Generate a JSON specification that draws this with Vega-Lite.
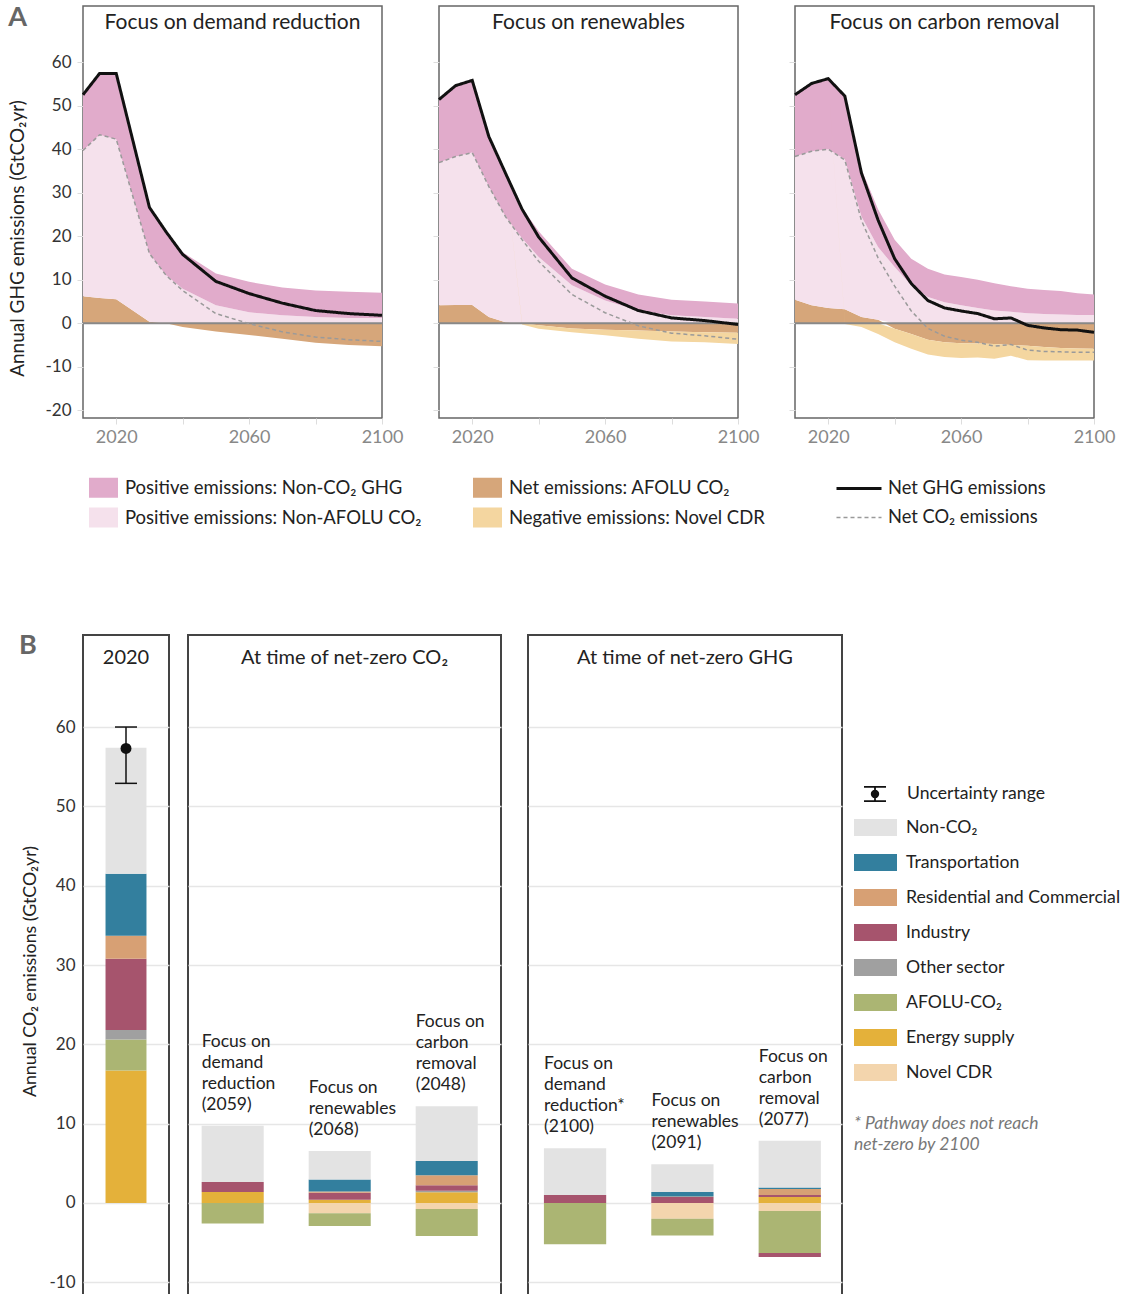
{
  "$schema": "https://vega.github.io/schema/vega-lite/v6.json",
  "padding": {"left": 8, "top": 4, "right": 0, "bottom": 0},
  "bounds": "flush",
  "spacing": 629,
  "config": {
    "font": "Lato",
    "title": {"font": "Lato", "fontWeight": "normal", "fontSize": 20, "color": "#222"},
    "axis": {"labelFont": "Lato", "titleFont": "Lato", "titleFontWeight": "normal", "titleColor": "#222", "labelColor": "#333", "domain": false, "labelFlush": false, "grid": false},
    "legend": {"labelFont": "Lato", "titleFont": "Lato"}
  },
  "datasets": {
    "a": [
      {"s":"D","year":2010,"afolu":6.2,"nonafolu":33.5,"nonco2":12.8,"cdr":0,"ghg":52.5,"co2":39.7},
      {"s":"D","year":2015,"afolu":5.8,"nonafolu":37.5,"nonco2":14.1,"cdr":0,"ghg":57.4,"co2":43.3},
      {"s":"D","year":2020,"afolu":5.5,"nonafolu":36.8,"nonco2":15.1,"cdr":0,"ghg":57.4,"co2":42.3},
      {"s":"D","year":2030,"afolu":0.3,"nonafolu":15.7,"nonco2":10.6,"cdr":0,"ghg":26.6,"co2":16.0},
      {"s":"D","year":2035,"afolu":0,"nonafolu":11.0,"nonco2":10.0,"cdr":0,"ghg":21.0,"co2":11.0},
      {"s":"D","year":2040,"afolu":-0.9,"nonafolu":7.9,"nonco2":8.4,"cdr":0,"ghg":15.8,"co2":7.5},
      {"s":"D","year":2050,"afolu":-1.9,"nonafolu":4.1,"nonco2":7.3,"cdr":0,"ghg":9.6,"co2":2.2},
      {"s":"D","year":2060,"afolu":-2.7,"nonafolu":2.5,"nonco2":7.0,"cdr":0,"ghg":6.8,"co2":-0.1},
      {"s":"D","year":2070,"afolu":-3.6,"nonafolu":1.8,"nonco2":6.4,"cdr":0,"ghg":4.6,"co2":-2.0},
      {"s":"D","year":2080,"afolu":-4.5,"nonafolu":1.4,"nonco2":6.1,"cdr":0,"ghg":2.9,"co2":-3.2},
      {"s":"D","year":2090,"afolu":-5.0,"nonafolu":1.2,"nonco2":6.0,"cdr":0,"ghg":2.2,"co2":-3.8},
      {"s":"D","year":2100,"afolu":-5.3,"nonafolu":1.2,"nonco2":5.8,"cdr":0,"ghg":1.8,"co2":-4.2},
      {"s":"R","year":2010,"afolu":4.1,"nonafolu":32.8,"nonco2":14.5,"cdr":0,"ghg":51.4,"co2":36.9},
      {"s":"R","year":2015,"afolu":4.2,"nonafolu":34.1,"nonco2":16.3,"cdr":0,"ghg":54.6,"co2":38.3},
      {"s":"R","year":2020,"afolu":4.2,"nonafolu":35.0,"nonco2":16.6,"cdr":0,"ghg":55.8,"co2":39.2},
      {"s":"R","year":2025,"afolu":1.4,"nonafolu":30.0,"nonco2":11.5,"cdr":0,"ghg":42.9,"co2":31.4},
      {"s":"R","year":2030,"afolu":0.2,"nonafolu":24.3,"nonco2":10.0,"cdr":0,"ghg":34.5,"co2":24.5},
      {"s":"R","year":2035,"afolu":0,"nonafolu":19.5,"nonco2":7.0,"cdr":-0.3,"ghg":26.2,"co2":19.2},
      {"s":"R","year":2040,"afolu":-0.5,"nonafolu":15.2,"nonco2":5.9,"cdr":-0.8,"ghg":19.8,"co2":14.2},
      {"s":"R","year":2050,"afolu":-1.2,"nonafolu":8.7,"nonco2":3.8,"cdr":-0.9,"ghg":10.4,"co2":6.6},
      {"s":"R","year":2060,"afolu":-1.5,"nonafolu":5.2,"nonco2":3.7,"cdr":-1.3,"ghg":6.2,"co2":2.4},
      {"s":"R","year":2070,"afolu":-1.7,"nonafolu":2.9,"nonco2":3.7,"cdr":-1.9,"ghg":2.9,"co2":-0.6},
      {"s":"R","year":2080,"afolu":-1.9,"nonafolu":1.8,"nonco2":3.6,"cdr":-2.3,"ghg":1.2,"co2":-2.3},
      {"s":"R","year":2090,"afolu":-2.1,"nonafolu":1.4,"nonco2":3.6,"cdr":-2.3,"ghg":0.6,"co2":-2.9},
      {"s":"R","year":2100,"afolu":-2.2,"nonafolu":1.0,"nonco2":3.5,"cdr":-2.6,"ghg":-0.3,"co2":-3.7},
      {"s":"C","year":2010,"afolu":5.4,"nonafolu":32.9,"nonco2":14.2,"cdr":0,"ghg":52.5,"co2":38.3},
      {"s":"C","year":2015,"afolu":4.1,"nonafolu":35.4,"nonco2":15.6,"cdr":0,"ghg":55.1,"co2":39.5},
      {"s":"C","year":2020,"afolu":3.5,"nonafolu":36.5,"nonco2":16.2,"cdr":0,"ghg":56.2,"co2":40.0},
      {"s":"C","year":2025,"afolu":3.2,"nonafolu":34.5,"nonco2":14.5,"cdr":-0.2,"ghg":52.2,"co2":37.5},
      {"s":"C","year":2030,"afolu":1.4,"nonafolu":23.1,"nonco2":10.9,"cdr":-0.9,"ghg":34.5,"co2":23.6},
      {"s":"C","year":2035,"afolu":0.8,"nonafolu":16.7,"nonco2":8.7,"cdr":-2.5,"ghg":23.7,"co2":15.0},
      {"s":"C","year":2040,"afolu":-1.3,"nonafolu":12.9,"nonco2":6.3,"cdr":-3.1,"ghg":14.8,"co2":8.5},
      {"s":"C","year":2045,"afolu":-2.5,"nonafolu":8.7,"nonco2":6.1,"cdr":-3.4,"ghg":9.1,"co2":2.8},
      {"s":"C","year":2050,"afolu":-3.8,"nonafolu":6.0,"nonco2":6.5,"cdr":-3.4,"ghg":5.2,"co2":-1.2},
      {"s":"C","year":2055,"afolu":-4.4,"nonafolu":4.8,"nonco2":6.4,"cdr":-3.4,"ghg":3.5,"co2":-3.0},
      {"s":"C","year":2060,"afolu":-4.6,"nonafolu":4.1,"nonco2":6.5,"cdr":-3.4,"ghg":2.8,"co2":-3.9},
      {"s":"C","year":2065,"afolu":-4.7,"nonafolu":3.5,"nonco2":6.5,"cdr":-3.2,"ghg":2.2,"co2":-4.4},
      {"s":"C","year":2070,"afolu":-4.8,"nonafolu":2.9,"nonco2":6.3,"cdr":-3.4,"ghg":1.0,"co2":-5.3},
      {"s":"C","year":2075,"afolu":-5.0,"nonafolu":2.6,"nonco2":5.9,"cdr":-2.5,"ghg":1.2,"co2":-4.9},
      {"s":"C","year":2080,"afolu":-5.2,"nonafolu":2.3,"nonco2":5.6,"cdr":-3.3,"ghg":-0.5,"co2":-6.2},
      {"s":"C","year":2085,"afolu":-5.5,"nonafolu":2.1,"nonco2":5.5,"cdr":-3.1,"ghg":-1.1,"co2":-6.5},
      {"s":"C","year":2090,"afolu":-5.7,"nonafolu":2.0,"nonco2":5.4,"cdr":-2.9,"ghg":-1.5,"co2":-6.6},
      {"s":"C","year":2095,"afolu":-5.8,"nonafolu":1.9,"nonco2":5.0,"cdr":-2.8,"ghg":-1.6,"co2":-6.7},
      {"s":"C","year":2100,"afolu":-5.9,"nonafolu":1.9,"nonco2":4.7,"cdr":-2.7,"ghg":-2.1,"co2":-6.7}
    ],
    "b": [
      {"p":"2020","bar":"2020","sector":"energy","value":16.7},
      {"p":"2020","bar":"2020","sector":"afolu","value":3.9},
      {"p":"2020","bar":"2020","sector":"other","value":1.2},
      {"p":"2020","bar":"2020","sector":"industry","value":9.0},
      {"p":"2020","bar":"2020","sector":"res","value":2.9},
      {"p":"2020","bar":"2020","sector":"transport","value":7.8},
      {"p":"2020","bar":"2020","sector":"nonco2","value":15.9},
      {"p":"co2","bar":"co2d","sector":"energy","value":1.4},
      {"p":"co2","bar":"co2d","sector":"industry","value":1.25},
      {"p":"co2","bar":"co2d","sector":"nonco2","value":7.1},
      {"p":"co2","bar":"co2d","sector":"afolu","value":-2.6},
      {"p":"co2","bar":"co2r","sector":"energy","value":0.4},
      {"p":"co2","bar":"co2r","sector":"industry","value":0.9},
      {"p":"co2","bar":"co2r","sector":"res","value":0.15},
      {"p":"co2","bar":"co2r","sector":"transport","value":1.5},
      {"p":"co2","bar":"co2r","sector":"nonco2","value":3.6},
      {"p":"co2","bar":"co2r","sector":"cdr","value":-1.3},
      {"p":"co2","bar":"co2r","sector":"afolu","value":-1.6},
      {"p":"co2","bar":"co2c","sector":"energy","value":1.35},
      {"p":"co2","bar":"co2c","sector":"other","value":0.2},
      {"p":"co2","bar":"co2c","sector":"industry","value":0.7},
      {"p":"co2","bar":"co2c","sector":"res","value":1.26},
      {"p":"co2","bar":"co2c","sector":"transport","value":1.77},
      {"p":"co2","bar":"co2c","sector":"nonco2","value":6.9},
      {"p":"co2","bar":"co2c","sector":"cdr","value":-0.76},
      {"p":"co2","bar":"co2c","sector":"afolu","value":-3.4},
      {"p":"ghg","bar":"ghgd","sector":"industry","value":1.0},
      {"p":"ghg","bar":"ghgd","sector":"nonco2","value":5.9},
      {"p":"ghg","bar":"ghgd","sector":"afolu","value":-5.2},
      {"p":"ghg","bar":"ghgr","sector":"industry","value":0.75},
      {"p":"ghg","bar":"ghgr","sector":"res","value":0.08},
      {"p":"ghg","bar":"ghgr","sector":"transport","value":0.55},
      {"p":"ghg","bar":"ghgr","sector":"nonco2","value":3.5},
      {"p":"ghg","bar":"ghgr","sector":"cdr","value":-2.0},
      {"p":"ghg","bar":"ghgr","sector":"afolu","value":-2.1},
      {"p":"ghg","bar":"ghgc","sector":"energy","value":0.76},
      {"p":"ghg","bar":"ghgc","sector":"industry","value":0.25},
      {"p":"ghg","bar":"ghgc","sector":"res","value":0.76},
      {"p":"ghg","bar":"ghgc","sector":"transport","value":0.17},
      {"p":"ghg","bar":"ghgc","sector":"nonco2","value":5.9},
      {"p":"ghg","bar":"ghgc","sector":"cdr","value":-1.0},
      {"p":"ghg","bar":"ghgc","sector":"afolu","value":-5.3},
      {"p":"ghg","bar":"ghgc","sector":"industry","value":-0.5}
    ],
    "bl": [
      {"bar":"co2d","lines":4,"label":"Focus on\ndemand\nreduction\n(2059)"},
      {"bar":"co2r","lines":3,"label":"Focus on\nrenewables\n(2068)"},
      {"bar":"co2c","lines":4,"label":"Focus on\ncarbon\nremoval\n(2048)"},
      {"bar":"ghgd","lines":4,"label":"Focus on\ndemand\nreduction*\n(2100)"},
      {"bar":"ghgr","lines":3,"label":"Focus on\nrenewables\n(2091)"},
      {"bar":"ghgc","lines":4,"label":"Focus on\ncarbon\nremoval\n(2077)"}
    ],
    "e": [{"bar":"2020","lo":52.9,"mid":57.3,"hi":60.0}]
  },
  "vconcat": [
    {
      "title": {"text": "A", "anchor": "start", "fontSize": 27, "fontWeight": "bold", "color": "#666", "offset": -48, "dx": 0, "baseline": "alphabetic"},
      "bounds": "flush",
      "spacing": 57,
      "resolve": {"scale": {"x": "independent", "y": "independent", "fill": "independent", "stroke": "independent", "strokeDash": "independent", "strokeWidth": "independent"}},
      "hconcat": [
        {
          "width": 299, "height": 412,
          "view": {"stroke": "#666", "strokeWidth": 1.5},
          "title": {"text": "Focus on demand reduction", "offset": -44, "fontSize": 21, "baseline": "alphabetic"},
          "layer": [
            {
              "data": {"name": "a"},
              "transform": [{"filter": "datum.s == 'D'"}, {"fold": ["afolu", "nonafolu", "nonco2", "cdr"], "as": ["series", "value"]}, {"calculate": "indexof(['afolu','nonafolu','nonco2','cdr'], datum.series)", "as": "ord"}],
              "mark": {"type": "area", "opacity": 1},
              "encoding": {
                "x": {"field": "year", "type": "quantitative", "scale": {"domain": [2010, 2100], "nice": false, "zero": false}, "axis": {"values": [2020, 2040, 2060, 2080, 2100], "format": "d", "labelExpr": "(datum.value - 2020) % 40 == 0 ? datum.label : ''", "title": null, "grid": false, "tickSize": 6, "tickColor": "#dddddd", "labelColor": "#888", "labelFontSize": 18, "labelPadding": 4}},
                "y": {"field": "value", "type": "quantitative", "stack": "zero", "scale": {"domain": [-21.8, 72.9], "nice": false, "zero": false}, "axis": {"values": [-20, -10, 0, 10, 20, 30, 40, 50, 60], "labelExpr": "replace(datum.label, '−', '-')", "title": "Annual GHG emissions (GtCO₂yr)", "titleY": 232, "grid": false, "titleFontSize": 19, "titlePadding": 17, "tickSize": 6, "tickColor": "#dddddd", "labelPadding": 6, "labelFontSize": 17}},
                "fill": {"field": "series", "type": "nominal", "scale": {"domain": ["nonco2", "afolu", "nonafolu", "cdr"], "range": ["#e1abcb", "#d6a67a", "#f5e1ec", "#f4d6a0"]},
                  "legend": {"orient": "none", "legendX": 6, "legendY": 467, "columns": 2, "direction": "horizontal", "title": null, "symbolType": "M-1,-0.69H1V0.69H-1Z", "symbolSize": 841, "symbolStrokeWidth": 0, "labelFontSize": 18.5, "labelColor": "#222", "labelOffset": 7, "rowPadding": 5, "columnPadding": 51, "labelLimit": 400, "padding": 0,
                    "labelExpr": "datum.label == 'nonco2' ? 'Positive emissions: Non-CO₂ GHG' : datum.label == 'afolu' ? 'Net emissions: AFOLU CO₂' : datum.label == 'nonafolu' ? 'Positive emissions: Non-AFOLU CO₂' : 'Negative emissions: Novel CDR'"}},
                "order": {"field": "ord", "type": "quantitative"}
              }
            },
            {"data": {"values": [{}]}, "mark": {"type": "rule", "color": "#888", "strokeWidth": 2}, "encoding": {"y": {"datum": 0, "type": "quantitative"}}},
            {
              "data": {"name": "a"},
              "transform": [{"filter": "datum.s == 'D'"}, {"fold": ["ghg", "co2"], "as": ["line", "value"]}],
              "mark": {"type": "line"},
              "encoding": {
                "x": {"field": "year", "type": "quantitative"},
                "y": {"field": "value", "type": "quantitative"},
                "stroke": {"field": "line", "type": "ordinal", "scale": {"domain": ["ghg", "co2"], "range": ["#111111", "#9a9a9a"]}, "legend": null},
                "strokeDash": {"field": "line", "type": "ordinal", "scale": {"domain": ["ghg", "co2"], "range": [[1, 0], [4, 3]]}, "legend": null},
                "strokeWidth": {"field": "line", "type": "ordinal", "scale": {"domain": ["ghg", "co2"], "range": [3, 1.5]}, "legend": null}
              }
            }
          ]
        },
        {
          "width": 299, "height": 412,
          "view": {"stroke": "#666", "strokeWidth": 1.5},
          "title": {"text": "Focus on renewables", "offset": -44, "fontSize": 21, "baseline": "alphabetic"},
          "layer": [
            {
              "data": {"name": "a"},
              "transform": [{"filter": "datum.s == 'R'"}, {"fold": ["afolu", "nonafolu", "nonco2", "cdr"], "as": ["series", "value"]}, {"calculate": "indexof(['afolu','nonafolu','nonco2','cdr'], datum.series)", "as": "ord"}],
              "mark": {"type": "area", "opacity": 1},
              "encoding": {
                "x": {"field": "year", "type": "quantitative", "scale": {"domain": [2010, 2100], "nice": false, "zero": false}, "axis": {"values": [2020, 2040, 2060, 2080, 2100], "format": "d", "labelExpr": "(datum.value - 2020) % 40 == 0 ? datum.label : ''", "title": null, "grid": false, "tickSize": 6, "tickColor": "#dddddd", "labelColor": "#888", "labelFontSize": 18, "labelPadding": 4}},
                "y": {"field": "value", "type": "quantitative", "stack": "zero", "scale": {"domain": [-21.8, 72.9], "nice": false, "zero": false}, "axis": {"values": [-20, -10, 0, 10, 20, 30, 40, 50, 60], "title": null, "grid": false, "labels": false, "tickSize": 6, "tickColor": "#dddddd"}},
                "fill": {"field": "series", "type": "nominal", "scale": {"domain": ["nonco2", "afolu", "nonafolu", "cdr"], "range": ["#e1abcb", "#d6a67a", "#f5e1ec", "#f4d6a0"]}, "legend": null},
                "order": {"field": "ord", "type": "quantitative"}
              }
            },
            {"data": {"values": [{}]}, "mark": {"type": "rule", "color": "#888", "strokeWidth": 2}, "encoding": {"y": {"datum": 0, "type": "quantitative"}}},
            {
              "data": {"name": "a"},
              "transform": [{"filter": "datum.s == 'R'"}, {"fold": ["ghg", "co2"], "as": ["line", "value"]}],
              "mark": {"type": "line"},
              "encoding": {
                "x": {"field": "year", "type": "quantitative"},
                "y": {"field": "value", "type": "quantitative"},
                "stroke": {"field": "line", "type": "ordinal", "scale": {"domain": ["ghg", "co2"], "range": ["#111111", "#9a9a9a"]}, "legend": null},
                "strokeDash": {"field": "line", "type": "ordinal", "scale": {"domain": ["ghg", "co2"], "range": [[1, 0], [4, 3]]}, "legend": null},
                "strokeWidth": {"field": "line", "type": "ordinal", "scale": {"domain": ["ghg", "co2"], "range": [3, 1.5]}, "legend": null}
              }
            }
          ]
        },
        {
          "width": 299, "height": 412,
          "view": {"stroke": "#666", "strokeWidth": 1.5},
          "title": {"text": "Focus on carbon removal", "offset": -44, "fontSize": 21, "baseline": "alphabetic"},
          "layer": [
            {
              "data": {"name": "a"},
              "transform": [{"filter": "datum.s == 'C'"}, {"fold": ["afolu", "nonafolu", "nonco2", "cdr"], "as": ["series", "value"]}, {"calculate": "indexof(['afolu','nonafolu','nonco2','cdr'], datum.series)", "as": "ord"}],
              "mark": {"type": "area", "opacity": 1},
              "encoding": {
                "x": {"field": "year", "type": "quantitative", "scale": {"domain": [2010, 2100], "nice": false, "zero": false}, "axis": {"values": [2020, 2040, 2060, 2080, 2100], "format": "d", "labelExpr": "(datum.value - 2020) % 40 == 0 ? datum.label : ''", "title": null, "grid": false, "tickSize": 6, "tickColor": "#dddddd", "labelColor": "#888", "labelFontSize": 18, "labelPadding": 4}},
                "y": {"field": "value", "type": "quantitative", "stack": "zero", "scale": {"domain": [-21.8, 72.9], "nice": false, "zero": false}, "axis": {"values": [-20, -10, 0, 10, 20, 30, 40, 50, 60], "title": null, "grid": false, "labels": false, "tickSize": 6, "tickColor": "#dddddd"}},
                "fill": {"field": "series", "type": "nominal", "scale": {"domain": ["nonco2", "afolu", "nonafolu", "cdr"], "range": ["#e1abcb", "#d6a67a", "#f5e1ec", "#f4d6a0"]}, "legend": null},
                "order": {"field": "ord", "type": "quantitative"}
              }
            },
            {"data": {"values": [{}]}, "mark": {"type": "rule", "color": "#888", "strokeWidth": 2}, "encoding": {"y": {"datum": 0, "type": "quantitative"}}},
            {
              "data": {"name": "a"},
              "transform": [{"filter": "datum.s == 'C'"}, {"fold": ["ghg", "co2"], "as": ["line", "value"]}],
              "mark": {"type": "line"},
              "encoding": {
                "x": {"field": "year", "type": "quantitative"},
                "y": {"field": "value", "type": "quantitative"},
                "stroke": {"field": "line", "type": "ordinal", "scale": {"domain": ["ghg", "co2"], "range": ["#111111", "#9a9a9a"]},
                  "legend": {"orient": "none", "legendX": 47.5, "legendY": 466, "direction": "vertical", "title": null, "symbolType": "M-1.5,0H1.5", "symbolSize": 900, "labelFontSize": 18.3, "labelColor": "#222", "labelOffset": 12.5, "rowPadding": 4.5, "padding": 0, "labelExpr": "datum.label == 'ghg' ? 'Net GHG emissions' : 'Net CO₂ emissions'"}},
                "strokeDash": {"field": "line", "type": "ordinal", "scale": {"domain": ["ghg", "co2"], "range": [[1, 0], [4, 3]]},
                  "legend": {"orient": "none", "legendX": 47.5, "legendY": 466, "direction": "vertical", "title": null, "symbolType": "M-1.5,0H1.5", "symbolSize": 900, "labelFontSize": 18.3, "labelColor": "#222", "labelOffset": 12.5, "rowPadding": 4.5, "padding": 0, "labelExpr": "datum.label == 'ghg' ? 'Net GHG emissions' : 'Net CO₂ emissions'"}},
                "strokeWidth": {"field": "line", "type": "ordinal", "scale": {"domain": ["ghg", "co2"], "range": [3, 1.5]},
                  "legend": {"orient": "none", "legendX": 47.5, "legendY": 466, "direction": "vertical", "title": null, "symbolType": "M-1.5,0H1.5", "symbolSize": 900, "labelFontSize": 18.3, "labelColor": "#222", "labelOffset": 12.5, "rowPadding": 4.5, "padding": 0, "labelExpr": "datum.label == 'ghg' ? 'Net GHG emissions' : 'Net CO₂ emissions'"}}
              }
            }
          ]
        }
      ]
    },
    {
      "title": {"text": "B", "anchor": "start", "fontSize": 27, "fontWeight": "bold", "color": "#666", "offset": -47, "dx": -2, "baseline": "alphabetic"},
      "bounds": "flush",
      "spacing": 19,
      "resolve": {"scale": {"x": "independent", "y": "independent", "fill": "independent", "shape": "independent"}},
      "hconcat": [
        {
          "width": 86, "height": 662,
          "view": {"stroke": "#444", "strokeWidth": 2},
          "title": {"text": "2020", "offset": -49, "baseline": "alphabetic"},
          "layer": [
            {
              "data": {"name": "b"},
              "transform": [{"filter": "datum.p == '2020'"}, {"calculate": "indexof(['cdr','energy','afolu','other','industry','res','transport','nonco2'], datum.sector)", "as": "ord"}],
              "mark": {"type": "bar"},
              "encoding": {
                "x": {"field": "bar", "type": "nominal", "scale": {"domain": ["2020"], "paddingInner": 0, "paddingOuter": 0.55}, "axis": null},
                "y": {"field": "value", "type": "quantitative", "stack": "zero", "scale": {"domain": [-11.85, 71.6], "nice": false, "zero": false}, "axis": {"values": [-10, 0, 10, 20, 30, 40, 50, 60], "labelExpr": "replace(datum.label, '−', '-')", "grid": true, "gridColor": "#e6e6e6", "gridWidth": 1.5, "ticks": false, "labelPadding": 8, "labelFontSize": 17, "title": "Annual CO₂ emissions (GtCO₂yr)", "titleFontSize": 17.8, "titlePadding": 9, "titleY": 336}},
                "fill": {"field": "sector", "type": "nominal", "scale": {"domain": ["nonco2", "transport", "res", "industry", "other", "afolu", "energy", "cdr"], "range": ["#e3e3e3", "#337f9e", "#d7a074", "#a6546d", "#a0a0a0", "#abb573", "#e4b13a", "#f3d5ad"]},
                  "legend": {"orient": "none", "legendX": 771, "legendY": 171, "direction": "vertical", "title": ["* Pathway does not reach", "net-zero by 2100"], "titleOrient": "bottom", "titleAnchor": "start", "titleFontStyle": "italic", "titleFontWeight": "normal", "titleFontSize": 17.5, "titleColor": "#777", "titleLineHeight": 21, "titlePadding": 34, "titleLimit": 400, "symbolType": "M-1,-0.4H1V0.4H-1Z", "symbolSize": 1849, "symbolStrokeWidth": 0, "labelFontSize": 17.7, "labelColor": "#222", "labelOffset": 9, "rowPadding": 4, "padding": 0, "labelLimit": 300,
                    "labelExpr": "datum.label == 'nonco2' ? 'Non-CO₂' : datum.label == 'transport' ? 'Transportation' : datum.label == 'res' ? 'Residential and Commercial' : datum.label == 'industry' ? 'Industry' : datum.label == 'other' ? 'Other sector' : datum.label == 'afolu' ? 'AFOLU-CO₂' : datum.label == 'energy' ? 'Energy supply' : 'Novel CDR'"}},
                "order": {"field": "ord", "type": "quantitative"}
              }
            },
            {"data": {"name": "e"}, "mark": {"type": "rule", "color": "#111", "strokeWidth": 1.5}, "encoding": {"x": {"field": "bar", "type": "nominal"}, "y": {"field": "lo", "type": "quantitative"}, "y2": {"field": "hi"}}},
            {"data": {"name": "e"}, "mark": {"type": "tick", "color": "#111", "size": 22, "thickness": 1.5, "opacity": 1}, "encoding": {"x": {"field": "bar", "type": "nominal"}, "y": {"field": "lo", "type": "quantitative"}}},
            {"data": {"name": "e"}, "mark": {"type": "tick", "color": "#111", "size": 22, "thickness": 1.5, "opacity": 1}, "encoding": {"x": {"field": "bar", "type": "nominal"}, "y": {"field": "hi", "type": "quantitative"}}},
            {"data": {"name": "e"}, "mark": {"type": "point", "filled": true, "color": "#111", "size": 120, "opacity": 1, "shape": "circle"}, "encoding": {"x": {"field": "bar", "type": "nominal"}, "y": {"field": "mid", "type": "quantitative"}}},
            {"data": {"name": "e"}, "mark": {"type": "point", "filled": false, "opacity": 0, "color": "#111", "strokeWidth": 1.8},
              "encoding": {"x": {"field": "bar", "type": "nominal"}, "y": {"field": "mid", "type": "quantitative"},
                "shape": {"datum": "Uncertainty range", "type": "nominal", "scale": {"range": ["M-1,-0.65H1M0,-0.65V0.65M-1,0.65H1M-0.3,0A0.3,0.3,0,1,1,0.3,0A0.3,0.3,0,1,1,-0.3,0M-0.15,0A0.15,0.15,0,1,1,0.15,0A0.15,0.15,0,1,1,-0.15,0M-0.05,0A0.05,0.05,0,1,1,0.05,0A0.05,0.05,0,1,1,-0.05,0"]},
                  "legend": {"orient": "none", "legendX": 780, "legendY": 147, "title": null, "symbolSize": 484, "labelOffset": 20, "labelFontSize": 17.6, "labelColor": "#222", "padding": 0, "symbolStrokeColor": "#111", "symbolStrokeWidth": 1.8, "symbolOpacity": 1}}}}
          ]
        },
        {
          "bounds": "flush",
          "spacing": 27,
          "resolve": {"scale": {"x": "independent", "y": "independent", "fill": "independent"}},
          "hconcat": [
            {
              "width": 313, "height": 662,
              "view": {"stroke": "#444", "strokeWidth": 2},
              "title": {"text": "At time of net-zero CO₂", "offset": -49, "baseline": "alphabetic"},
              "layer": [
                {
                  "data": {"name": "b"},
                  "transform": [{"filter": "datum.p == 'co2'"}, {"calculate": "indexof(['cdr','energy','afolu','other','industry','res','transport','nonco2'], datum.sector)", "as": "ord"}],
                  "mark": {"type": "bar"},
                  "encoding": {
                    "x": {"field": "bar", "type": "nominal", "scale": {"domain": ["co2d", "co2r", "co2c"], "paddingInner": 0.42, "paddingOuter": 0.1725, "align": 0.37}, "axis": null},
                    "y": {"field": "value", "type": "quantitative", "stack": "zero", "scale": {"domain": [-11.85, 71.6], "nice": false, "zero": false}, "axis": {"values": [-10, 0, 10, 20, 30, 40, 50, 60], "grid": true, "gridColor": "#e6e6e6", "gridWidth": 1.5, "ticks": false, "labels": false, "title": null}},
                    "fill": {"field": "sector", "type": "nominal", "scale": {"domain": ["nonco2", "transport", "res", "industry", "other", "afolu", "energy", "cdr"], "range": ["#e3e3e3", "#337f9e", "#d7a074", "#a6546d", "#a0a0a0", "#abb573", "#e4b13a", "#f3d5ad"]}, "legend": null},
                    "order": {"field": "ord", "type": "quantitative"}
                  }
                },
                {
                  "data": {"name": "b"},
                  "transform": [{"filter": "datum.p == 'co2' && datum.value > 0"}, {"aggregate": [{"op": "sum", "field": "value", "as": "top"}], "groupby": ["bar"]}, {"lookup": "bar", "from": {"data": {"name": "bl"}, "key": "bar", "fields": ["label", "lines"]}}, {"filter": "datum.lines == 4"}],
                  "mark": {"type": "text", "align": "left", "baseline": "bottom", "dx": -31, "dy": -75, "fontSize": 17.5, "lineHeight": 21, "lineBreak": "\n", "color": "#222"},
                  "encoding": {"x": {"field": "bar", "type": "nominal"}, "y": {"field": "top", "type": "quantitative"}, "text": {"field": "label"}}
                },
                {
                  "data": {"name": "b"},
                  "transform": [{"filter": "datum.p == 'co2' && datum.value > 0"}, {"aggregate": [{"op": "sum", "field": "value", "as": "top"}], "groupby": ["bar"]}, {"lookup": "bar", "from": {"data": {"name": "bl"}, "key": "bar", "fields": ["label", "lines"]}}, {"filter": "datum.lines == 3"}],
                  "mark": {"type": "text", "align": "left", "baseline": "bottom", "dx": -31, "dy": -54, "fontSize": 17.5, "lineHeight": 21, "lineBreak": "\n", "color": "#222"},
                  "encoding": {"x": {"field": "bar", "type": "nominal"}, "y": {"field": "top", "type": "quantitative"}, "text": {"field": "label"}}
                }
              ]
            },
            {
              "width": 314, "height": 662,
              "view": {"stroke": "#444", "strokeWidth": 2},
              "title": {"text": "At time of net-zero GHG", "offset": -49, "baseline": "alphabetic"},
              "layer": [
                {
                  "data": {"name": "b"},
                  "transform": [{"filter": "datum.p == 'ghg'"}, {"calculate": "indexof(['cdr','energy','afolu','other','industry','res','transport','nonco2'], datum.sector)", "as": "ord"}],
                  "mark": {"type": "bar"},
                  "encoding": {
                    "x": {"field": "bar", "type": "nominal", "scale": {"domain": ["ghgd", "ghgr", "ghgc"], "paddingInner": 0.42, "paddingOuter": 0.1725, "align": 0.43}, "axis": null},
                    "y": {"field": "value", "type": "quantitative", "stack": "zero", "scale": {"domain": [-11.85, 71.6], "nice": false, "zero": false}, "axis": {"values": [-10, 0, 10, 20, 30, 40, 50, 60], "grid": true, "gridColor": "#e6e6e6", "gridWidth": 1.5, "ticks": false, "labels": false, "title": null}},
                    "fill": {"field": "sector", "type": "nominal", "scale": {"domain": ["nonco2", "transport", "res", "industry", "other", "afolu", "energy", "cdr"], "range": ["#e3e3e3", "#337f9e", "#d7a074", "#a6546d", "#a0a0a0", "#abb573", "#e4b13a", "#f3d5ad"]}, "legend": null},
                    "order": {"field": "ord", "type": "quantitative"}
                  }
                },
                {
                  "data": {"name": "b"},
                  "transform": [{"filter": "datum.p == 'ghg' && datum.value > 0"}, {"aggregate": [{"op": "sum", "field": "value", "as": "top"}], "groupby": ["bar"]}, {"lookup": "bar", "from": {"data": {"name": "bl"}, "key": "bar", "fields": ["label", "lines"]}}, {"filter": "datum.lines == 4"}],
                  "mark": {"type": "text", "align": "left", "baseline": "bottom", "dx": -31, "dy": -75, "fontSize": 17.5, "lineHeight": 21, "lineBreak": "\n", "color": "#222"},
                  "encoding": {"x": {"field": "bar", "type": "nominal"}, "y": {"field": "top", "type": "quantitative"}, "text": {"field": "label"}}
                },
                {
                  "data": {"name": "b"},
                  "transform": [{"filter": "datum.p == 'ghg' && datum.value > 0"}, {"aggregate": [{"op": "sum", "field": "value", "as": "top"}], "groupby": ["bar"]}, {"lookup": "bar", "from": {"data": {"name": "bl"}, "key": "bar", "fields": ["label", "lines"]}}, {"filter": "datum.lines == 3"}],
                  "mark": {"type": "text", "align": "left", "baseline": "bottom", "dx": -31, "dy": -54, "fontSize": 17.5, "lineHeight": 21, "lineBreak": "\n", "color": "#222"},
                  "encoding": {"x": {"field": "bar", "type": "nominal"}, "y": {"field": "top", "type": "quantitative"}, "text": {"field": "label"}}
                }
              ]
            }
          ]
        }
      ]
    }
  ],
  "resolve": {"scale": {"x": "independent", "y": "independent", "fill": "independent", "stroke": "independent", "strokeDash": "independent", "strokeWidth": "independent", "shape": "independent"}}
}
